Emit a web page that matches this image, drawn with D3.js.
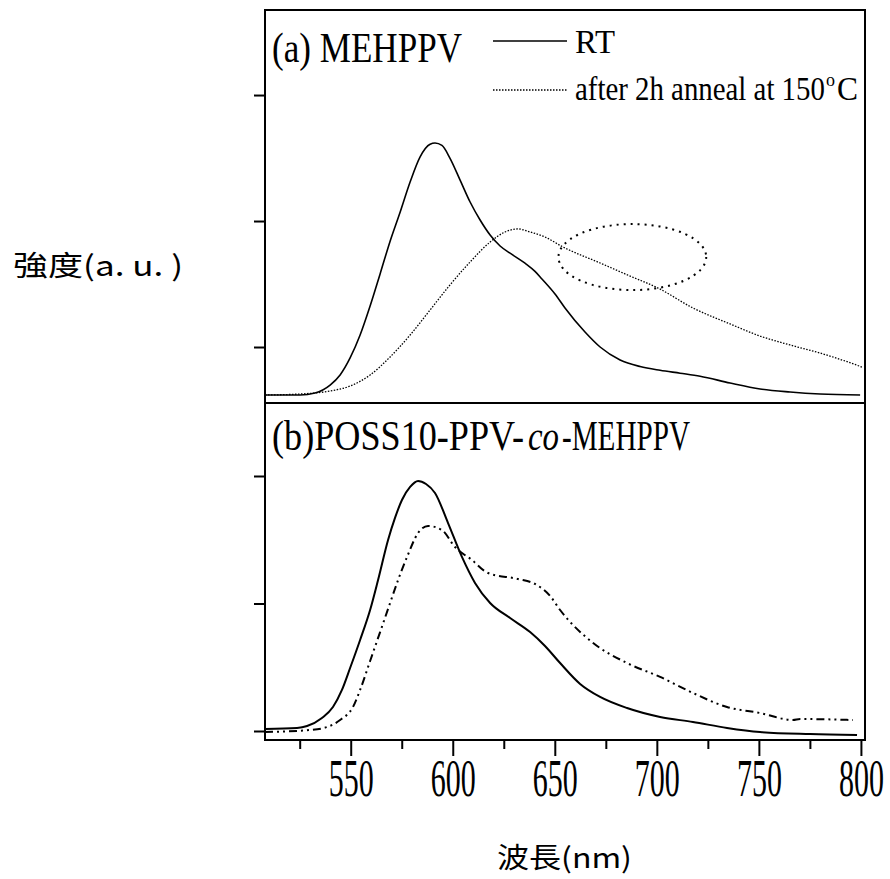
<!DOCTYPE html>
<html>
<head>
<meta charset="utf-8">
<script src="https://cdn.jsdelivr.net/npm/d3@7"></script>
<style>
  html, body { margin: 0; padding: 0; background: #fff; }
  svg { display: block; }
</style>
</head>
<body>
<svg id="chart" width="890" height="879"></svg>
<script>
// ---------------- DATA ----------------
const xMajorTicks = [550, 600, 650, 700, 750, 800];
const xMinorTicks = [525, 575, 625, 675, 725, 775];
const topTicks = [1, 2, 3];
const bottomTicks = [0, 1, 2];

// (a) MEHPPV, RT (solid)  [wavelength nm, intensity a.u.]
const topRT = [
  [508,0.619],[525.2,0.619],[532.5,0.635],[539.9,0.698],[544.8,0.778],[549.7,0.913],
  [554.6,1.095],[559.5,1.325],[564.4,1.580],[569.3,1.840],[574.2,2.070],[579.1,2.310],
  [584.0,2.510],[588.9,2.610],[591.3,2.619],[594.7,2.600],[598.6,2.5],[603.6,2.325],
  [608.5,2.151],[613.4,2.008],[618.3,1.889],[623.2,1.802],[629.0,1.735],[635.4,1.665],
  [640.3,1.600],[643.7,1.540],[650.1,1.421],[655.0,1.310],[664.8,1.119],
  [672.2,1.0],[682.0,0.897],[691.8,0.845],[701.6,0.815],[711.4,0.792],[721.2,0.768],
  [735.9,0.714],[750.6,0.667],[765.3,0.643],[780.0,0.627],[799.6,0.619]
];
// (a) MEHPPV, after 2h anneal at 150°C (dotted)
const topAnneal = [
  [508,0.619],[525.2,0.627],[539.9,0.651],[549.7,0.690],[559.5,0.778],[569.3,0.921],
  [579.1,1.095],[588.9,1.294],[598.6,1.492],[608.5,1.675],[618.3,1.833],[625.6,1.913],
  [632.0,1.937],[637.9,1.913],[645.2,1.873],[654.0,1.794],[672.2,1.667],[686.9,1.563],
  [700.6,1.468],[717.7,1.310],[735.9,1.183],[750.6,1.087],[765.3,1.016],[780.0,0.952],
  [792.2,0.889],[800.5,0.841]
];
// (b) POSS10-PPV-co-MEHPPV, RT (solid)
const bottomRT = [
  [508,0.016],[523.7,0.024],[528.6,0.039],[535.9,0.102],[541.3,0.188],[545.7,0.322],
  [549.7,0.494],[554.6,0.714],[559.5,0.949],[563.4,1.184],[568.3,1.498],[571.7,1.671],
  [575.1,1.812],[579.1,1.914],[583.0,1.961],[586.9,1.937],[591.3,1.867],[597.7,1.631],
  [604.5,1.365],[610.9,1.161],[618.3,1.004],[628.1,0.886],[637.9,0.776],[645.2,0.667],
  [652.6,0.533],[662.4,0.369],[672.2,0.267],[685.4,0.180],[701.6,0.110],[717.7,0.071],
  [734.4,0.024],[750.6,-0.008],[775.1,-0.024],[798.1,-0.031]
];
// (b) annealed (dash-dot-dot)
const bottomAnneal = [
  [508,-0.008],[530.0,0.008],[538.4,0.031],[544.8,0.086],[551.1,0.188],[554.6,0.322],
  [559.5,0.549],[564.4,0.776],[569.3,1.004],[573.2,1.184],[577.6,1.365],[583.0,1.553],
  [587.9,1.608],[594.7,1.576],[601.1,1.443],[609.4,1.341],[617.3,1.239],[632.0,1.192],
  [640.3,1.153],[647.7,1.059],[652.6,0.949],[668.8,0.690],[685.4,0.533],[701.6,0.424],
  [717.7,0.298],[734.4,0.188],[750.6,0.141],[766.7,0.086],[770.2,0.094],[796.1,0.086]
];
// highlighted region in (a): [center nm, center a.u., radius nm, radius a.u.]
const ellipseA = [688, 1.714, 36.2, 0.262];

const panelATitle = "(a) MEHPPV";
const panelBTitle = ["(b)POSS10-PPV-", "co", "-MEHPPV"];
const legendLabels = ["RT", "after 2h anneal at 150", "o", "C"];
const yLabel = "強度(a. u. )";
const xLabel = "波長(nm)";

// ---------------- LAYOUT ----------------
const svg = d3.select("#chart");
const L = 265, R = 865, T = 10, MID = 403, B = 740;
const serif = "'Liberation Serif', 'Times New Roman', serif";
const cjk = "'Noto Sans CJK TC', 'Noto Sans CJK SC', sans-serif";

const x = d3.scaleLinear().domain([508, 802]).range([L, R]);
const yTop = d3.scaleLinear().domain([0.5556, 3.675]).range([MID, T]);
const yBot = d3.scaleLinear().domain([-0.0706, 2.5725]).range([B, MID]);

const lineTop = d3.line().x(d => x(d[0])).y(d => yTop(d[1])).curve(d3.curveMonotoneX);
const lineBot = d3.line().x(d => x(d[0])).y(d => yBot(d[1])).curve(d3.curveMonotoneX);

// text placed at (x0, y0) and horizontally squeezed to a target width
function fitText(parent, str, x0, y0, size, width, opts = {}) {
  const t = parent.append("text")
    .attr("font-family", opts.family || serif)
    .attr("font-size", size)
    .attr("font-style", opts.italic ? "italic" : null)
    .attr("text-anchor", opts.anchor || "start")
    .attr("fill", "#000")
    .text(str);
  const natural = t.node().getComputedTextLength();
  const sx = width / natural;
  t.attr("transform", `translate(${x0},${y0}) scale(${sx},1)`);
  return t;
}

// curves
svg.append("path").attr("d", lineTop(topRT)).attr("fill", "none")
  .attr("stroke", "#000").attr("stroke-width", 1.6);
svg.append("path").attr("d", lineTop(topAnneal)).attr("fill", "none")
  .attr("stroke", "#000").attr("stroke-width", 1.3).attr("stroke-dasharray", "1.5,1.5");
svg.append("path").attr("d", lineBot(bottomRT)).attr("fill", "none")
  .attr("stroke", "#000").attr("stroke-width", 2);
svg.append("path").attr("d", lineBot(bottomAnneal)).attr("fill", "none")
  .attr("stroke", "#000").attr("stroke-width", 2).attr("stroke-dasharray", "8,4,2,4,2,4");

// ellipse annotation
svg.append("ellipse")
  .attr("cx", x(ellipseA[0])).attr("cy", yTop(ellipseA[1]))
  .attr("rx", x(ellipseA[0] + ellipseA[2]) - x(ellipseA[0]))
  .attr("ry", yTop(ellipseA[1]) - yTop(ellipseA[1] + ellipseA[3]))
  .attr("fill", "none").attr("stroke", "#000").attr("stroke-width", 2)
  .attr("stroke-dasharray", "2,5");

// frame
svg.append("rect").attr("x", L).attr("y", T).attr("width", R - L).attr("height", B - T)
  .attr("fill", "none").attr("stroke", "#000").attr("stroke-width", 2);
svg.append("line").attr("x1", L).attr("x2", R).attr("y1", MID).attr("y2", MID)
  .attr("stroke", "#000").attr("stroke-width", 2);

// y axes (ticks only)
function styleAxis(g) {
  g.select(".domain").remove();
  g.selectAll(".tick line").attr("stroke", "#000").attr("stroke-width", 2);
}
svg.append("g").attr("transform", `translate(${L},0)`)
  .call(d3.axisLeft(yTop).tickValues(topTicks).tickSize(11).tickFormat(""))
  .call(styleAxis);
svg.append("g").attr("transform", `translate(${L},0)`)
  .call(d3.axisLeft(yBot).tickValues(bottomTicks).tickSize(11).tickFormat(""))
  .call(styleAxis);

// x axis
svg.append("g").attr("transform", `translate(0,${B})`)
  .call(d3.axisBottom(x).tickValues(xMinorTicks).tickSize(9).tickFormat(""))
  .call(styleAxis);
const xMaj = svg.append("g").attr("transform", `translate(0,${B})`)
  .call(d3.axisBottom(x).tickValues(xMajorTicks).tickSize(16).tickFormat(""))
  .call(styleAxis);
xMaj.selectAll(".tick").each(function(d) {
  fitText(d3.select(this), String(d), 0, 56, 52, 45, { anchor: "middle" });
});

// panel titles
fitText(svg, panelATitle, 272, 62, 42, 190);
fitText(svg, panelBTitle[0], 272, 450, 42, 252);
fitText(svg, panelBTitle[1], 528, 450, 42, 31, { italic: true });
fitText(svg, panelBTitle[2], 562, 450, 42, 128);

// legend
svg.append("line").attr("x1", 493).attr("x2", 567).attr("y1", 41).attr("y2", 41)
  .attr("stroke", "#000").attr("stroke-width", 1.6);
svg.append("line").attr("x1", 493).attr("x2", 567).attr("y1", 90).attr("y2", 90)
  .attr("stroke", "#000").attr("stroke-width", 1.3).attr("stroke-dasharray", "1.5,1.5");
fitText(svg, legendLabels[0], 575, 53, 34, 40);
fitText(svg, legendLabels[1], 575, 100, 33, 250);
fitText(svg, legendLabels[2], 826, 86, 19, 9);
fitText(svg, legendLabels[3], 837, 100, 33, 21);

// axis labels
fitText(svg, yLabel, 13, 276, 28, 170, { family: cjk });
fitText(svg, xLabel, 497, 868, 28, 135, { family: cjk });
</script>
</body>
</html>
